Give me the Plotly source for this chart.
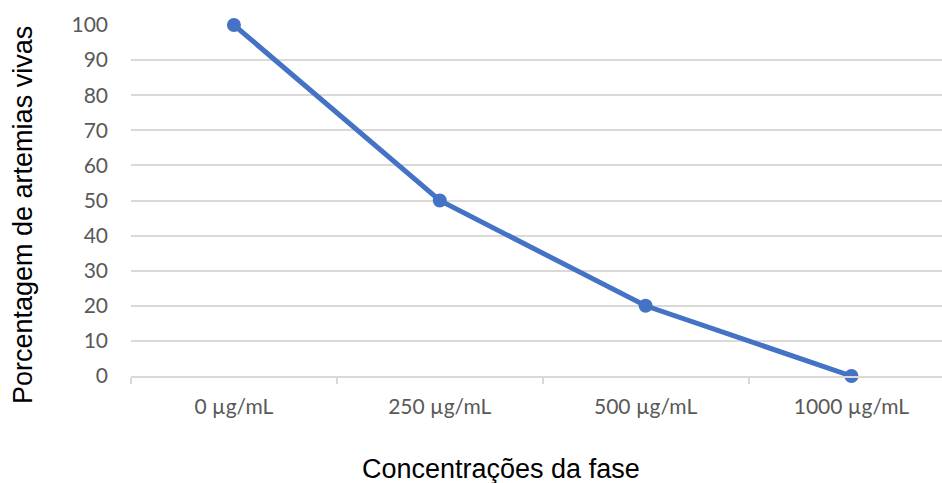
import plotly.graph_objects as go

categories = ["0 µg/mL", "250 µg/mL", "500 µg/mL", "1000 µg/mL"]
values = [100, 50, 20, 0]
y_ticks = list(range(0, 101, 10))

fig = go.Figure()
fig.add_trace(go.Scatter(
    x=categories, y=values, mode="lines+markers",
    line=dict(color="#4472C4", width=5),
    marker=dict(color="#4472C4", size=14),
    cliponaxis=False, showlegend=False,
))

fig.update_layout(
    width=942, height=483,
    margin=dict(l=131, r=0, t=25, b=107),
    paper_bgcolor="white", plot_bgcolor="white",
    xaxis=dict(
        type="category", range=[-0.5, 3.44],
        showgrid=False, showline=True, linecolor="#d9d9d9", linewidth=2,
        tickson="boundaries", ticks="outside", ticklen=6, tickwidth=2, tickcolor="#d9d9d9",
        tickfont=dict(family="Lato", size=21, color="#595959"),
        ticklabelstandoff=11,
    ),
    yaxis=dict(
        range=[0, 100], tickvals=y_ticks,
        showgrid=True, gridcolor="#d9d9d9", gridwidth=2, zeroline=False,
        showline=False, ticks="",
        tickfont=dict(family="Lato", size=21, color="#595959"),
        ticklabelstandoff=22,
    ),
    annotations=[
        dict(text="Concentrações da fase", xref="paper", yref="paper",
             x=(501 - 131) / 811, y=-0.265, xanchor="center", yanchor="middle",
             showarrow=False, font=dict(family="Liberation Sans", size=27, color="black")),
        dict(text="Porcentagem de artemias vivas", xref="paper", yref="paper",
             x=-0.133, y=0.459, xanchor="center", yanchor="middle", textangle=-90,
             showarrow=False, font=dict(family="Liberation Sans", size=27, color="black")),
    ],
)

fig.write_html("out.html")
